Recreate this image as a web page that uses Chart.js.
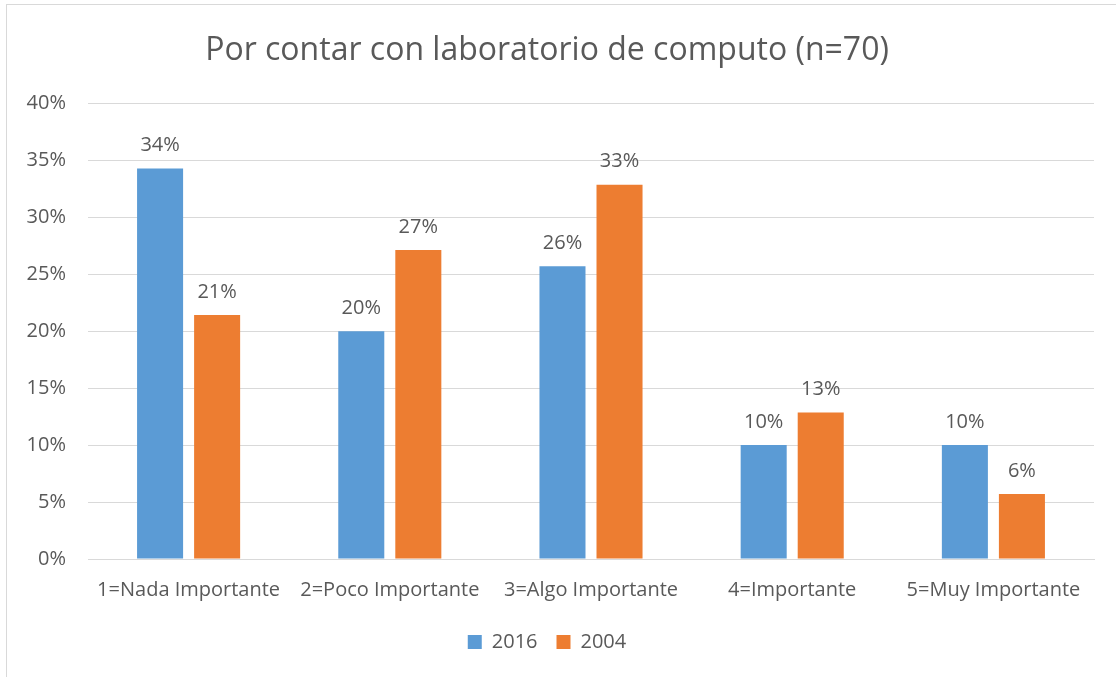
<!DOCTYPE html>
<html>
<head>
<meta charset="utf-8">
<script src="https://cdn.jsdelivr.net/npm/chart.js@4/dist/chart.umd.min.js"></script>
<style>
    html, body { margin: 0; padding: 0; background: #fff; overflow: hidden; }
    #frame {
        position: absolute; left: 6px; top: 4px; width: 1200px; height: 800px;
        border-top: 1px solid #d9d9d9; border-left: 1px solid #d9d9d9;
    }
    #wrap { position: absolute; left: 0; top: 0; width: 1116px; height: 677px; }
</style>
</head>
<body>
<div id="frame"></div>
<div id="wrap"><canvas id="chart"></canvas></div>
<script>
// Datos del gráfico
const categorias = ['1=Nada Importante', '2=Poco Importante', '3=Algo Importante', '4=Importante', '5=Muy Importante'];
const serie2016 = [34.29, 20.0, 25.71, 10.0, 10.0];
const serie2004 = [21.43, 27.14, 32.86, 12.86, 5.71];
const ticksY = [0, 5, 10, 15, 20, 25, 30, 35, 40];

const textColor = '#595959';
const fontFamily = "'Open Sans', 'Noto Sans', sans-serif";

// Etiquetas de valor sobre las barras
const etiquetasPlugin = {
    id: 'etiquetas',
    afterDatasetsDraw(chart) {
        const ctx = chart.ctx;
        ctx.save();
        ctx.fillStyle = textColor;
        ctx.font = '20px ' + fontFamily;
        ctx.textAlign = 'center';
        ctx.textBaseline = 'bottom';
        chart.data.datasets.forEach((ds, i) => {
            chart.getDatasetMeta(i).data.forEach((bar, j) => {
                ctx.fillText(Math.round(ds.data[j]) + '%', bar.x, bar.y - 13);
            });
        });
        ctx.restore();
    }
};

new Chart(document.getElementById('chart'), {
    type: 'bar',
    data: {
        labels: categorias,
        datasets: [
            { label: '2016', data: serie2016, backgroundColor: '#5b9bd5' },
            { label: '2004', data: serie2004, backgroundColor: '#ed7d31' }
        ]
    },
    options: {
        responsive: true,
        maintainAspectRatio: false,
        animation: false,
        categoryPercentage: 0.567,
        barPercentage: 0.807,
        layout: { padding: { left: 0, right: 22, top: 0, bottom: 15 } },
        plugins: {
            title: {
                display: true,
                text: 'Por contar con laboratorio de computo (n=70)',
                color: textColor,
                font: { family: fontFamily, size: 32, weight: 'normal' },
                padding: { top: 32, bottom: 33 }
            },
            legend: {
                position: 'bottom',
                labels: {
                    color: textColor,
                    font: { family: fontFamily, size: 20 },
                    boxWidth: 14,
                    boxHeight: 14,
                    padding: 19
                }
            },
            tooltip: { enabled: false }
        },
        scales: {
            x: {
                grid: { display: false },
                border: { color: '#d9d9d9', width: 1 },
                ticks: {
                    color: textColor,
                    font: { family: fontFamily, size: 20 },
                    padding: 11,
                    maxRotation: 0,
                    autoSkip: false
                }
            },
            y: {
                min: 0,
                max: 40,
                afterBuildTicks: axis => { axis.ticks = ticksY.map(v => ({ value: v })); },
                afterFit: axis => { axis.width = 88; },
                grid: { color: '#d9d9d9', drawTicks: false },
                border: { display: false },
                ticks: {
                    color: textColor,
                    font: { family: fontFamily, size: 20 },
                    padding: 22,
                    callback: v => v + '%'
                }
            }
        }
    },
    plugins: [etiquetasPlugin]
});
</script>
</body>
</html>
